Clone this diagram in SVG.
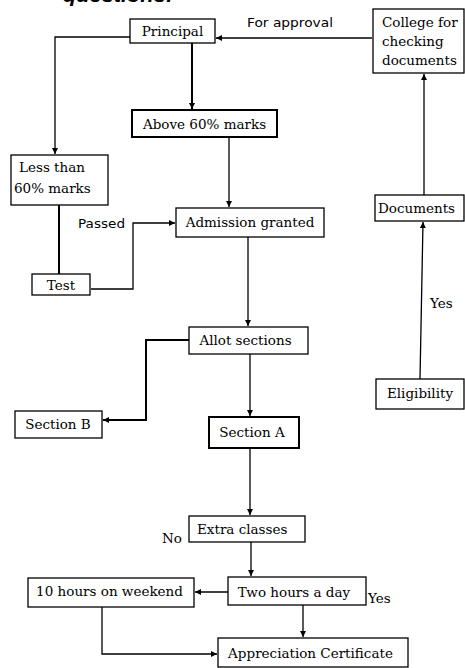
<svg xmlns="http://www.w3.org/2000/svg" width="465" height="668" viewBox="0 0 465 668">
<style>
.box{fill:#fff;stroke:#000;stroke-width:1.3}
.thick{stroke-width:2}
.t{font-family:"DejaVu Serif","Liberation Serif",serif;font-size:13.5px;fill:#000}
.s{font-family:"DejaVu Sans","Liberation Sans",sans-serif;font-size:12px;fill:#000}
.c{fill:none;stroke:#000;stroke-width:1.3}
.cb{stroke-width:2}
</style>
<defs>
<marker id="ah" markerWidth="7" markerHeight="7" refX="6" refY="3.5" orient="auto" markerUnits="userSpaceOnUse">
<path d="M0,0.5 L6,3.5 L0,6.5 Z" fill="#000"/>
</marker>
</defs>
<text x="63" y="2" font-family="Liberation Sans, sans-serif" font-size="20" font-weight="bold" font-style="italic" textLength="110" lengthAdjust="spacingAndGlyphs">questions:</text>
<g id="connectors">
<path class="c" d="M372,38 L216,38" marker-end="url(#ah)"/>
<path class="c" d="M130,37 L55,37 L55,154" marker-end="url(#ah)"/>
<path class="c cb" d="M192,43 L192,109" marker-end="url(#ah)"/>
<path class="c" d="M229,137 L229,207" marker-end="url(#ah)"/>
<path class="c cb" d="M59,205 L59,274"/>
<path class="c" d="M91,289 L133,289 L133,223 L175,223" marker-end="url(#ah)"/>
<path class="c" d="M248,237 L248,326" marker-end="url(#ah)"/>
<path class="c cb" d="M189,340 L146,340 L146,420 L103,420" marker-end="url(#ah)"/>
<path class="c" d="M250,354 L250,416" marker-end="url(#ah)"/>
<path class="c" d="M250,448 L250,515" marker-end="url(#ah)"/>
<path class="c" d="M251,542 L251,576" marker-end="url(#ah)"/>
<path class="c" d="M228,592 L195,592" marker-end="url(#ah)"/>
<path class="c" d="M102,607 L102,654 L217,654" marker-end="url(#ah)"/>
<path class="c" d="M303,605 L303,637" marker-end="url(#ah)"/>
<path class="c" d="M420,379 L423,222" marker-end="url(#ah)"/>
<path class="c" d="M424,195 L424,74" marker-end="url(#ah)"/>
<text class="s" x="247" y="27" textLength="86" lengthAdjust="spacingAndGlyphs">For approval</text>
<text class="s" x="78" y="228" textLength="47" lengthAdjust="spacingAndGlyphs">Passed</text>
<text class="t" x="430" y="308">Yes</text>
<text class="t" x="162" y="543">No</text>
<text class="t" x="368" y="603">Yes</text>
</g>
<g id="principal"><rect class="box" x="130" y="19" width="85" height="24"/><text class="t" x="172.5" y="36" text-anchor="middle">Principal</text></g>
<g id="college"><rect class="box" x="373" y="9" width="91" height="64"/><text class="t" x="382" y="27">College for</text><text class="t" x="382" y="46">checking</text><text class="t" x="382" y="65">documents</text></g>
<g id="above60"><rect class="box thick" x="132" y="110" width="145" height="27"/><text class="t" x="204.5" y="129" text-anchor="middle">Above 60% marks</text></g>
<g id="less60"><rect class="box" x="11" y="155" width="97" height="50"/><text class="t" x="19" y="172">Less than</text><text class="t" x="14" y="193">60% marks</text></g>
<g id="test"><rect class="box" x="32" y="274" width="58" height="21"/><text class="t" x="61" y="290" text-anchor="middle">Test</text></g>
<g id="admission"><rect class="box" x="176" y="208" width="148" height="29"/><text class="t" x="250" y="227" text-anchor="middle">Admission granted</text></g>
<g id="documents"><rect class="box" x="375" y="195" width="89" height="26"/><text class="t" x="378" y="213">Documents</text></g>
<g id="allot"><rect class="box" x="189" y="327" width="119" height="27"/><text class="t" x="245.5" y="345" text-anchor="middle">Allot sections</text></g>
<g id="sectionB"><rect class="box" x="15" y="411" width="87" height="27"/><text class="t" x="58" y="429" text-anchor="middle">Section B</text></g>
<g id="sectionA"><rect class="box thick" x="209" y="417" width="90" height="31"/><text class="t" x="252" y="437" text-anchor="middle">Section A</text></g>
<g id="eligibility"><rect class="box" x="376" y="379" width="88" height="30"/><text class="t" x="420" y="398" text-anchor="middle">Eligibility</text></g>
<g id="extra"><rect class="box" x="189" y="516" width="116" height="26"/><text class="t" x="197" y="534">Extra classes</text></g>
<g id="twohours"><rect class="box" x="228" y="577" width="138" height="28"/><text class="t" x="294" y="597" text-anchor="middle">Two hours a day</text></g>
<g id="tenhours"><rect class="box" x="28" y="578" width="166" height="29"/><text class="t" x="109.5" y="596" text-anchor="middle">10 hours on weekend</text></g>
<g id="appreciation"><rect class="box" x="218" y="638" width="190" height="29"/><text class="t" x="310.5" y="658" text-anchor="middle">Appreciation Certificate</text></g>
</svg>
